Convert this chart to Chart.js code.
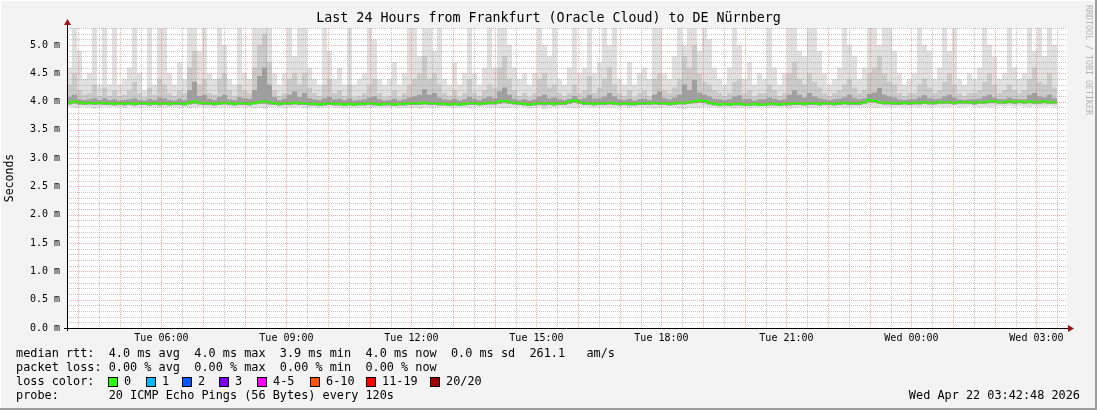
<!DOCTYPE html>
<html>
<head>
<meta charset="utf-8">
<title>Smokeping - Frankfurt to DE Nürnberg</title>
<script src="https://cdn.jsdelivr.net/npm/chart.js@4.4.1/dist/chart.umd.min.js"></script>
<style>
  html, body { margin: 0; padding: 0; background: #f3f3f3; }
  canvas { display: block; }
</style>
</head>
<body>
<canvas id="smokeChart" width="1097" height="410"></canvas>
<script>
// time axis: hours counted from Tue 00:00, one bin every 7.2 minutes
const startHour = 3 + 44 / 60;
const binHours = 0.12;
const dayNames = ['Tue', 'Wed'];

// median rtt (ms)
const medianRtt = [
    3.97, 3.98, 4.0, 3.99, 3.97, 3.98, 3.97, 3.98, 3.97, 3.97,
    3.96, 3.97, 3.96, 3.97, 3.96, 3.97, 3.97, 3.96, 3.97, 3.96,
    3.97, 3.96, 3.97, 3.97, 3.96, 3.98, 4.0, 3.98, 3.97, 3.97,
    3.96, 3.97, 3.98, 3.97, 3.96, 3.97, 3.97, 3.96, 3.98, 3.99,
    4.0, 3.99, 3.97, 3.96, 3.97, 3.97, 3.98, 3.97, 3.97, 3.96,
    3.96, 3.95, 3.96, 3.97, 3.96, 3.96, 3.95, 3.96, 3.95, 3.96,
    3.96, 3.97, 3.96, 3.95, 3.96, 3.96, 3.95, 3.96, 3.96, 3.97,
    3.97, 3.97, 3.98, 3.97, 3.97, 3.96, 3.96, 3.95, 3.96, 3.95,
    3.96, 3.97, 3.97, 3.96, 3.97, 3.98, 3.98, 4.0, 4.01, 3.99,
    3.98, 3.97, 3.96, 3.95, 3.96, 3.97, 3.97, 3.97, 3.96, 3.97,
    3.97, 4.0, 4.02, 3.99, 3.97, 3.97, 3.96, 3.97, 3.97, 3.98,
    3.97, 3.96, 3.97, 3.96, 3.96, 3.97, 3.97, 3.97, 3.98, 3.97,
    3.97, 3.96, 3.97, 3.98, 3.98, 3.99, 4.0, 4.02, 4.01, 3.98,
    3.96, 3.95, 3.96, 3.95, 3.96, 3.96, 3.95, 3.95, 3.96, 3.95,
    3.95, 3.96, 3.96, 3.95, 3.96, 3.96, 3.97, 3.97, 3.96, 3.97,
    3.97, 3.96, 3.97, 3.97, 3.96, 3.97, 3.98, 3.97, 3.97, 3.97,
    3.99, 4.03, 4.01, 3.99, 3.98, 3.98, 3.97, 3.97, 3.98, 3.97,
    3.98, 3.98, 3.99, 3.98, 3.98, 3.99, 3.99, 3.99, 3.98, 3.99,
    3.99, 3.99, 3.98, 3.99, 3.99, 4.0, 4.0, 3.99, 3.99, 4.0,
    3.99, 4.0, 3.99, 4.0, 3.99, 3.99, 4.0, 3.99, 3.99
];

// smoke: fastest ping per bin
const minRtt = [
    3.90, 3.91, 3.89, 3.90, 3.91, 3.90, 3.88, 3.90, 3.91, 3.90,
    3.91, 3.90, 3.89, 3.91, 3.90, 3.89, 3.91, 3.90, 3.90, 3.89,
    3.90, 3.91, 3.90, 3.89, 3.90, 3.88, 3.90, 3.91, 3.90, 3.90,
    3.89, 3.90, 3.91, 3.90, 3.89, 3.90, 3.91, 3.90, 3.88, 3.89,
    3.88, 3.90, 3.91, 3.90, 3.89, 3.90, 3.90, 3.91, 3.89, 3.90,
    3.90, 3.89, 3.90, 3.91, 3.90, 3.89, 3.88, 3.90, 3.89, 3.90,
    3.90, 3.89, 3.90, 3.91, 3.90, 3.89, 3.90, 3.89, 3.90, 3.89,
    3.89, 3.88, 3.89, 3.90, 3.89, 3.90, 3.91, 3.90, 3.89, 3.90,
    3.90, 3.89, 3.90, 3.91, 3.90, 3.89, 3.90, 3.89, 3.88, 3.89,
    3.90, 3.91, 3.90, 3.88, 3.89, 3.90, 3.86, 3.89, 3.90, 3.91,
    3.90, 3.89, 3.88, 3.90, 3.91, 3.90, 3.89, 3.90, 3.90, 3.89,
    3.90, 3.91, 3.90, 3.89, 3.90, 3.91, 3.90, 3.89, 3.88, 3.89,
    3.90, 3.91, 3.89, 3.88, 3.87, 3.89, 3.88, 3.89, 3.90, 3.90,
    3.90, 3.89, 3.90, 3.89, 3.88, 3.89, 3.90, 3.89, 3.90, 3.90,
    3.91, 3.89, 3.90, 3.91, 3.90, 3.88, 3.89, 3.90, 3.91, 3.89,
    3.89, 3.90, 3.91, 3.90, 3.89, 3.90, 3.89, 3.90, 3.91, 3.90,
    3.90, 3.91, 3.89, 3.90, 3.91, 3.90, 3.90, 3.91, 3.90, 3.91,
    3.91, 3.90, 3.91, 3.90, 3.91, 3.91, 3.90, 3.91, 3.92, 3.90,
    3.91, 3.92, 3.91, 3.90, 3.91, 3.90, 3.91, 3.92, 3.91, 3.92,
    3.91, 3.92, 3.91, 3.90, 3.92, 3.91, 3.91, 3.92, 3.91
];

// smoke: inner lower edge
const lowRtt = [
    3.94, 3.95, 3.96, 3.95, 3.94, 3.95, 3.94, 3.95, 3.94, 3.94,
    3.93, 3.94, 3.93, 3.94, 3.93, 3.94, 3.94, 3.93, 3.94, 3.93,
    3.94, 3.93, 3.94, 3.94, 3.93, 3.95, 3.96, 3.95, 3.94, 3.94,
    3.93, 3.94, 3.95, 3.94, 3.93, 3.94, 3.94, 3.93, 3.95, 3.96,
    3.96, 3.95, 3.94, 3.93, 3.94, 3.94, 3.95, 3.94, 3.94, 3.93,
    3.93, 3.92, 3.93, 3.94, 3.93, 3.93, 3.92, 3.93, 3.92, 3.93,
    3.93, 3.94, 3.93, 3.92, 3.93, 3.93, 3.92, 3.93, 3.93, 3.94,
    3.94, 3.94, 3.95, 3.94, 3.94, 3.93, 3.93, 3.92, 3.93, 3.92,
    3.93, 3.94, 3.94, 3.93, 3.94, 3.95, 3.95, 3.96, 3.97, 3.96,
    3.95, 3.94, 3.93, 3.92, 3.93, 3.94, 3.93, 3.94, 3.93, 3.94,
    3.94, 3.96, 3.98, 3.96, 3.94, 3.94, 3.93, 3.94, 3.94, 3.95,
    3.94, 3.93, 3.94, 3.93, 3.93, 3.94, 3.94, 3.94, 3.95, 3.94,
    3.94, 3.93, 3.94, 3.95, 3.95, 3.96, 3.97, 3.98, 3.97, 3.95,
    3.93, 3.92, 3.93, 3.92, 3.93, 3.93, 3.92, 3.92, 3.93, 3.92,
    3.92, 3.93, 3.93, 3.92, 3.93, 3.93, 3.94, 3.94, 3.93, 3.94,
    3.94, 3.93, 3.94, 3.94, 3.93, 3.94, 3.95, 3.94, 3.94, 3.94,
    3.96, 3.99, 3.98, 3.96, 3.95, 3.95, 3.94, 3.94, 3.95, 3.94,
    3.95, 3.95, 3.96, 3.95, 3.95, 3.96, 3.96, 3.96, 3.95, 3.96,
    3.96, 3.96, 3.95, 3.96, 3.96, 3.97, 3.97, 3.96, 3.96, 3.97,
    3.96, 3.97, 3.96, 3.97, 3.96, 3.96, 3.97, 3.96, 3.96
];

// smoke: dense core above the median
const coreRtt = [
    4.05, 4.08, 4.12, 4.04, 4.03, 4.04, 4.06, 4.03, 4.06, 4.03,
    4.04, 4.02, 4.03, 4.04, 4.06, 4.03, 4.02, 4.05, 4.03, 4.07,
    4.06, 4.03, 4.02, 4.05, 4.03, 4.2, 4.35, 4.1, 4.12, 4.05,
    4.03, 4.08, 4.12, 4.04, 4.03, 4.08, 4.06, 4.05, 4.2, 4.45,
    4.6, 4.3, 4.08, 4.03, 4.05, 4.12, 4.18, 4.08, 4.15, 4.06,
    4.04, 4.03, 4.06, 4.08, 4.04, 4.05, 4.03, 4.06, 4.02, 4.03,
    4.04, 4.07, 4.09, 4.04, 4.02, 4.03, 4.05, 4.02, 4.04, 4.07,
    4.09, 4.12, 4.22, 4.12, 4.15, 4.07, 4.04, 4.03, 4.05, 4.02,
    4.04, 4.08, 4.05, 4.03, 4.06, 4.09, 4.06, 4.18, 4.25, 4.12,
    4.05, 4.03, 4.04, 4.02, 4.04, 4.09, 4.12, 4.06, 4.07, 4.04,
    4.03, 4.05, 4.1, 4.04, 4.06, 4.12, 4.05, 4.06, 4.09, 4.15,
    4.09, 4.04, 4.03, 4.05, 4.02, 4.04, 4.05, 4.03, 4.12, 4.18,
    4.06, 4.04, 4.07, 4.12, 4.3, 4.2, 4.38, 4.16, 4.12, 4.09,
    4.05, 4.04, 4.03, 4.04, 4.09, 4.11, 4.04, 4.05, 4.02, 4.04,
    4.04, 4.07, 4.05, 4.03, 4.04, 4.12, 4.2, 4.12, 4.07, 4.15,
    4.09, 4.06, 4.04, 4.03, 4.04, 4.05, 4.07, 4.12, 4.06, 4.04,
    4.06, 4.14, 4.16, 4.24, 4.12, 4.09, 4.07, 4.04, 4.03, 4.04,
    4.04, 4.07, 4.11, 4.06, 4.04, 4.05, 4.09, 4.12, 4.07, 4.04,
    4.03, 4.04, 4.04, 4.05, 4.09, 4.12, 4.07, 4.04, 4.04, 4.07,
    4.05, 4.04, 4.04, 4.12, 4.15, 4.09, 4.07, 4.12, 4.06
];

// smoke: middle band
const midRtt = [
    4.2, 4.3, 4.5, 4.2, 4.12, 4.15, 4.3, 4.1, 4.25, 4.1,
    4.2, 4.1, 4.12, 4.2, 4.35, 4.15, 4.08, 4.25, 4.12, 4.4,
    4.3, 4.15, 4.1, 4.2, 4.15, 4.6, 4.9, 4.3, 4.4, 4.15,
    4.12, 4.4, 4.5, 4.2, 4.1, 4.3, 4.2, 4.15, 4.6, 5.0,
    5.2, 4.7, 4.2, 4.1, 4.15, 4.4, 4.5, 4.3, 4.5, 4.25,
    4.15, 4.1, 4.3, 4.4, 4.15, 4.2, 4.1, 4.3, 4.08, 4.1,
    4.15, 4.3, 4.4, 4.15, 4.08, 4.1, 4.2, 4.08, 4.15, 4.3,
    4.4, 4.5, 4.8, 4.4, 4.5, 4.3, 4.15, 4.1, 4.2, 4.08,
    4.15, 4.4, 4.15, 4.1, 4.2, 4.3, 4.25, 4.6, 4.8, 4.4,
    4.2, 4.1, 4.15, 4.08, 4.15, 4.4, 4.5, 4.25, 4.3, 4.15,
    4.1, 4.15, 4.3, 4.15, 4.2, 4.45, 4.15, 4.25, 4.4, 4.6,
    4.3, 4.15, 4.1, 4.2, 4.08, 4.15, 4.2, 4.1, 4.4, 4.5,
    4.2, 4.15, 4.25, 4.4, 4.8, 4.6, 5.0, 4.5, 4.35, 4.3,
    4.2, 4.15, 4.1, 4.15, 4.35, 4.4, 4.15, 4.2, 4.1, 4.15,
    4.15, 4.3, 4.2, 4.1, 4.15, 4.5, 4.7, 4.4, 4.3, 4.5,
    4.35, 4.25, 4.15, 4.1, 4.15, 4.2, 4.3, 4.4, 4.25, 4.15,
    4.2, 4.5, 4.6, 4.8, 4.5, 4.35, 4.3, 4.15, 4.1, 4.15,
    4.15, 4.3, 4.4, 4.25, 4.15, 4.2, 4.35, 4.5, 4.3, 4.15,
    4.1, 4.15, 4.15, 4.2, 4.35, 4.5, 4.3, 4.15, 4.2, 4.3,
    4.2, 4.15, 4.2, 4.4, 4.6, 4.35, 4.3, 4.5, 4.25
];

// smoke: slowest ping per bin (above 5.3 is cut off by the graph)
const maxRtt = [
    5.4, 4.6, 5.4, 4.9, 4.4, 4.5, 5.4, 4.3, 5.4, 4.3,
    5.4, 4.3, 4.4, 4.6, 5.4, 4.5, 4.2, 5.4, 4.3, 5.4,
    5.4, 4.5, 4.3, 4.7, 4.4, 5.4, 5.4, 4.9, 5.4, 4.5,
    4.4, 5.4, 5.0, 4.4, 4.3, 5.4, 4.5, 4.4, 5.4, 5.4,
    5.4, 5.4, 4.5, 4.3, 4.5, 5.4, 4.8, 5.3, 5.4, 4.6,
    4.4, 4.3, 5.4, 4.9, 4.4, 4.6, 4.3, 5.4, 4.3, 4.4,
    4.5, 5.4, 5.1, 4.4, 4.3, 4.4, 4.7, 4.3, 4.5, 5.4,
    5.4, 4.8, 5.4, 5.4, 4.9, 5.3, 4.4, 4.3, 4.7, 4.3,
    4.5, 5.4, 4.5, 4.3, 4.6, 5.4, 4.6, 5.4, 5.4, 5.0,
    4.6, 4.4, 4.5, 4.3, 4.5, 5.4, 5.0, 4.8, 5.4, 4.4,
    4.3, 4.6, 5.4, 4.5, 4.6, 5.4, 4.5, 4.7, 5.4, 5.0,
    5.4, 4.4, 4.3, 4.7, 4.3, 4.5, 4.6, 4.4, 5.4, 5.4,
    4.5, 4.4, 4.8, 5.4, 5.0, 5.4, 5.4, 4.9, 5.4, 5.1,
    4.6, 4.4, 4.3, 4.6, 5.4, 5.0, 4.4, 4.7, 4.3, 4.5,
    4.4, 5.4, 4.6, 4.3, 4.5, 5.4, 5.4, 4.9, 4.8, 5.4,
    5.4, 4.9, 4.5, 4.3, 4.4, 4.6, 5.4, 5.0, 4.8, 4.4,
    4.6, 5.4, 5.4, 5.0, 5.4, 5.4, 4.9, 4.5, 4.3, 4.4,
    4.5, 5.4, 5.0, 4.9, 4.4, 4.6, 5.4, 4.9, 5.4, 4.4,
    4.3, 4.5, 4.4, 4.6, 5.4, 5.0, 4.8, 4.4, 4.5, 5.4,
    4.6, 4.4, 4.5, 5.4, 4.9, 5.4, 4.8, 5.4, 5.0
];

// legend
const lossLabels = ['0', '1', '2', '3', '4-5', '6-10', '11-19', '20/20'];
const lossColors = ['#26ff00', '#00b8ff', '#0059ff', '#7e00ff', '#ff00ff', '#ff5500', '#ff0000', '#a10000'];
const lossBoxX = [108, 146, 182, 219, 257, 310, 366, 430];
const statLines = [
    'median rtt:  4.0 ms avg  4.0 ms max  3.9 ms min  4.0 ms now  0.0 ms sd  261.1   am/s',
    'packet loss: 0.00 % avg  0.00 % max  0.00 % min  0.00 % now',
    'loss color:',
    'probe:       20 ICMP Echo Pings (56 Bytes) every 120s'
];
const titleText = 'Last 24 Hours from Frankfurt (Oracle Cloud) to DE Nürnberg';
const stampText = 'Wed Apr 22 03:42:48 2026';

const MONO = '"DejaVu Sans Mono", "Liberation Mono", monospace';
const MINOR_GRID = 'rgba(150,150,150,0.55)';
const MAJOR_GRID = 'rgba(240,90,90,0.5)';

function toPoints(values) {
    return values.map((v, i) => ({ x: startHour + i * binHours, y: v }));
}

function hourLabel(v) {
    const h = Math.round(v);
    if (Math.abs(v - h) > 1e-6 || h % 3 !== 0) return '';
    const day = dayNames[Math.floor(h / 24)];
    return day + ' ' + String(h % 24).padStart(2, '0') + ':00';
}

const isHour = v => Math.abs(v - Math.round(v)) < 1e-6;
const isHalfMs = v => Math.round(v * 10) % 5 === 0;

// dotted rrdtool grid, drawn over the smoke from the scales' own ticks
const dottedGrid = {
    id: 'dottedGrid',
    afterDatasetsDraw(chart) {
        const ctx = chart.ctx;
        const a = chart.chartArea;
        const xs = chart.scales.x;
        const ys = chart.scales.y;
        ctx.save();
        ctx.lineWidth = 1;
        ctx.setLineDash([1, 1]);
        // minor first, major on top
        [false, true].forEach(major => {
            ctx.strokeStyle = major ? MAJOR_GRID : MINOR_GRID;
            ctx.beginPath();
            xs.ticks.forEach(t => {
                if (isHour(t.value) !== major) return;
                const px = Math.round(xs.getPixelForValue(t.value)) + 0.5;
                ctx.moveTo(px, a.top);
                ctx.lineTo(px, a.bottom);
            });
            ys.ticks.forEach(t => {
                if (isHalfMs(t.value) !== major || t.value === 0) return;
                const py = Math.round(ys.getPixelForValue(t.value)) + 0.5;
                ctx.moveTo(a.left, py);
                ctx.lineTo(a.right, py);
            });
            ctx.stroke();
        });
        ctx.restore();
    }
};

// background, frame, axis arrows and all the rrdtool texts
const rrdFrame = {
    id: 'rrdFrame',
    beforeDraw(chart) {
        const ctx = chart.ctx;
        const a = chart.chartArea;
        ctx.save();
        ctx.fillStyle = '#f3f3f3';
        ctx.fillRect(0, 0, chart.width, chart.height);
        ctx.fillStyle = '#ffffff';
        ctx.fillRect(0, 0, chart.width, 1);
        ctx.fillRect(0, 0, 1, chart.height);
        ctx.fillStyle = '#9c9c9c';
        ctx.fillRect(0, chart.height - 2, chart.width, 2);
        ctx.fillRect(chart.width - 2, 0, 2, chart.height);
        ctx.fillStyle = '#ffffff';
        ctx.fillRect(a.left, a.top, a.right - a.left, a.bottom - a.top);
        ctx.restore();
    },
    afterDraw(chart) {
        const ctx = chart.ctx;
        const a = chart.chartArea;
        ctx.save();

        // axes with arrows
        ctx.strokeStyle = '#000';
        ctx.lineWidth = 1;
        ctx.setLineDash([]);
        ctx.beginPath();
        ctx.moveTo(a.left - 3, a.bottom + 0.5);
        ctx.lineTo(a.right + 2, a.bottom + 0.5);
        ctx.moveTo(a.left + 0.5, a.bottom + 3);
        ctx.lineTo(a.left + 0.5, a.top - 5);
        ctx.stroke();
        ctx.fillStyle = '#a11414';
        ctx.beginPath();
        ctx.moveTo(a.right + 1, a.bottom - 3);
        ctx.lineTo(a.right + 7, a.bottom + 0.5);
        ctx.lineTo(a.right + 1, a.bottom + 4);
        ctx.closePath();
        ctx.fill();
        ctx.beginPath();
        ctx.moveTo(a.left - 3, a.top - 3);
        ctx.lineTo(a.left + 0.5, a.top - 9);
        ctx.lineTo(a.left + 4, a.top - 3);
        ctx.closePath();
        ctx.fill();

        // title
        ctx.fillStyle = '#000';
        ctx.textBaseline = 'middle';
        ctx.textAlign = 'center';
        ctx.font = '13.3px ' + MONO;
        ctx.fillText(titleText, chart.width / 2, 19);

        // vertical axis title
        ctx.save();
        ctx.translate(10, (a.top + a.bottom) / 2);
        ctx.rotate(-Math.PI / 2);
        ctx.font = '11.5px ' + MONO;
        ctx.fillText('Seconds', 0, 0);
        ctx.restore();

        // watermark
        ctx.save();
        ctx.translate(1088, 60);
        ctx.rotate(Math.PI / 2);
        ctx.fillStyle = '#b4b4b4';
        ctx.font = '8.3px ' + MONO;
        ctx.fillText('RRDTOOL / TOBI OETIKER', 0, 0);
        ctx.restore();

        // legend and statistics
        ctx.font = '11.85px ' + MONO;
        ctx.textAlign = 'left';
        const rows = [354, 368, 382, 396];
        statLines.forEach((line, i) => ctx.fillText(line, 16, rows[i]));
        lossLabels.forEach((lab, i) => {
            const bx = lossBoxX[i];
            ctx.fillStyle = lossColors[i];
            ctx.fillRect(bx, 377, 10, 10);
            ctx.strokeStyle = '#000';
            ctx.strokeRect(bx + 0.5, 377.5, 9, 9);
            ctx.fillStyle = '#000';
            ctx.fillText(lab, bx + 16, rows[2]);
        });
        ctx.textAlign = 'right';
        ctx.fillText(stampText, 1080, rows[3]);
        ctx.restore();
    }
};

const hidden = { borderColor: 'rgba(0,0,0,0)', borderWidth: 0, fill: false };
const smoke = { borderColor: 'rgba(0,0,0,0)', borderWidth: 0, stepped: 'after' };

new Chart(document.getElementById('smokeChart'), {
    type: 'line',
    data: {
        datasets: [
            { label: 'median', data: toPoints(medianRtt), borderColor: '#26ff00', borderWidth: 2, stepped: 'after', fill: false, order: 0 },
            { label: 'min', data: toPoints(minRtt), ...hidden, stepped: 'after', order: 6 },
            { label: 'low', data: toPoints(lowRtt), ...hidden, stepped: 'after', order: 6 },
            { label: 'max', data: toPoints(maxRtt), ...smoke, fill: { target: 1 }, backgroundColor: '#e0e0e0', order: 5 },
            { label: 'mid', data: toPoints(midRtt), ...smoke, fill: { target: 2 }, backgroundColor: '#cacaca', order: 4 },
            { label: 'core', data: toPoints(coreRtt), ...smoke, fill: { target: 2 }, backgroundColor: '#9f9f9f', order: 3 }
        ]
    },
    options: {
        responsive: false,
        animation: false,
        events: [],
        clip: 0,
        layout: { padding: { top: 28, right: 30, left: 0, bottom: 0 } },
        elements: { point: { radius: 0 }, line: { tension: 0, borderCapStyle: 'butt' } },
        plugins: {
            legend: { display: false },
            tooltip: { enabled: false },
            title: { display: false }
        },
        scales: {
            x: {
                type: 'linear',
                min: startHour,
                max: startHour + 24,
                afterFit: s => { s.height = 82; },
                afterBuildTicks: s => {
                    const ticks = [];
                    for (let h = 8; h <= 55; h++) ticks.push({ value: h / 2 });
                    s.ticks = ticks;
                },
                grid: { display: false, drawTicks: false, tickLength: 0 },
                border: { display: false },
                ticks: {
                    autoSkip: false,
                    maxRotation: 0,
                    padding: 4,
                    color: '#000',
                    font: { family: MONO, size: 10 },
                    callback: v => hourLabel(v)
                }
            },
            y: {
                min: 0,
                max: 5.3,
                afterFit: s => { s.width = 67; },
                afterBuildTicks: s => {
                    const ticks = [];
                    for (let k = 0; k <= 53; k++) ticks.push({ value: k / 10 });
                    s.ticks = ticks;
                },
                grid: { display: false, drawTicks: false, tickLength: 0 },
                border: { display: false },
                ticks: {
                    autoSkip: false,
                    padding: 7,
                    color: '#000',
                    font: { family: MONO, size: 10 },
                    callback: v => (isHalfMs(v) ? v.toFixed(1) + ' m' : '')
                }
            }
        }
    },
    plugins: [rrdFrame, dottedGrid]
});
</script>
</body>
</html>
